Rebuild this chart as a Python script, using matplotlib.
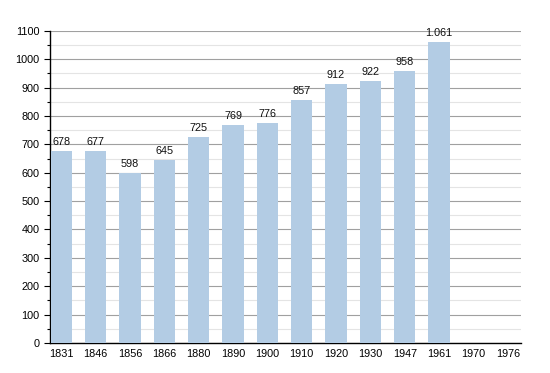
import matplotlib
matplotlib.use("Agg")
import matplotlib.pyplot as plt
import numpy as np
from matplotlib.ticker import MultipleLocator

years = ["1831", "1846", "1856", "1866", "1880", "1890", "1900", "1910", "1920", "1930", "1947", "1961", "1970", "1976"]
population = [678, 677, 598, 645, 725, 769, 776, 857, 912, 922, 958, 1061, None, None]
value_labels = ["678", "677", "598", "645", "725", "769", "776", "857", "912", "922", "958", "1.061", "", ""]

plt.rcParams['font.family'] = ['Liberation Sans', 'DejaVu Sans']

fig = plt.figure(figsize=(5.5, 3.73), dpi=100)
ax = fig.add_axes([0.0909, 0.0804, 0.856, 0.837])

x = np.arange(len(years))
vals = [v if v is not None else 0 for v in population]
bars = ax.bar(x, vals, width=0.62, color="#b3cce4", zorder=3)
for xi, v, lab in zip(x, population, value_labels):
    if v is not None:
        ax.text(xi, v + 14, lab, ha="center", va="bottom", fontsize=7.8, color="#111111", zorder=4)

ax.set_xlim(-0.33, 13.38)
ax.set_ylim(0, 1100)
ax.set_xticks(x)
ax.set_xticklabels(years, fontsize=7.8)
ax.yaxis.set_major_locator(MultipleLocator(100))
ax.yaxis.set_minor_locator(MultipleLocator(50))
ax.tick_params(axis="y", which="major", labelsize=7.8, length=4, width=0.8)
ax.tick_params(axis="y", which="minor", length=2, width=0.8)
ax.tick_params(axis="x", length=0, pad=4)
ax.grid(axis="y", which="major", color="#a0a0a0", linewidth=0.8, zorder=0)
ax.grid(axis="y", which="minor", color="#e4e4e4", linewidth=0.8, zorder=0)
for s in ["top", "right"]:
    ax.spines[s].set_visible(False)
ax.spines["left"].set_linewidth(1.0)
ax.spines["bottom"].set_linewidth(1.0)
ax.set_axisbelow(True)

fig.savefig("out.png", dpi=100)
